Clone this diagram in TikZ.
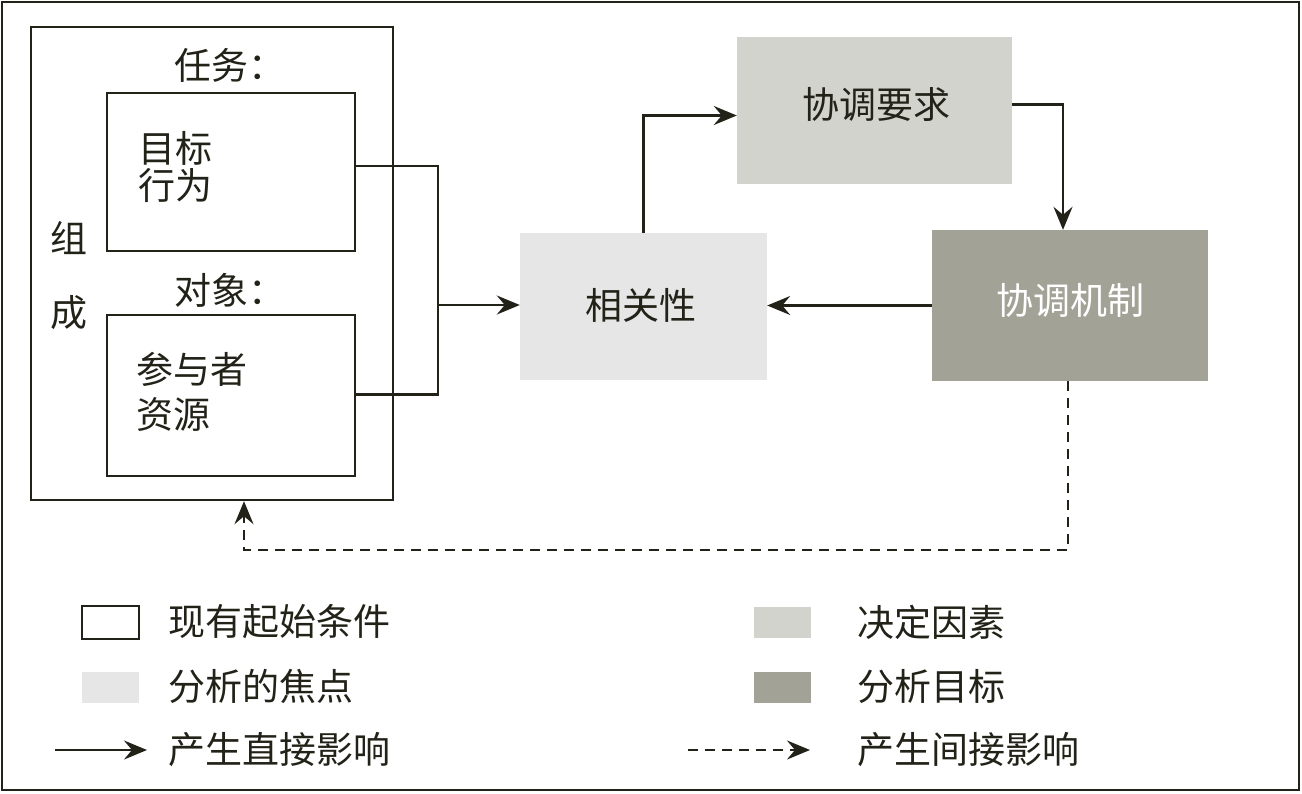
\documentclass[tikz,border=0pt]{standalone}
\usepackage{fontspec}
\setmainfont{Noto Sans CJK SC}
\usetikzlibrary{arrows.meta}
\definecolor{ink}{RGB}{34,34,24}
\definecolor{focus}{RGB}{230,230,230}
\definecolor{determ}{RGB}{211,211,206}
\definecolor{target}{RGB}{162,162,151}
\tikzset{
  box/.style={draw=ink,line width=2.4pt,fill=white,inner sep=0pt},
  fillbox/.style={draw=none,inner sep=0pt},
  lbl/.style={text=ink,font=\fontsize{37}{38}\selectfont,inner sep=0pt},
  conn/.style={draw=ink,line width=2.4pt},
  arr/.style={conn,-{Stealth[length=23pt,width=19pt,inset=8pt]}},
  darr/.style={arr,dash pattern=on 10pt off 7pt},
}
\begin{document}
\begin{tikzpicture}[x=1pt,y=-1pt]
\useasboundingbox (0,0) rectangle (1302,793);
\draw[ink,line width=2.8pt] (2,2) rectangle (1299,790);

% left group
\node[box,minimum width=362pt,minimum height=473pt] (zc) at (212,263.5) {};
\node[box,minimum width=248pt,minimum height=158pt] (task) at (231,172) {};
\node[box,minimum width=248pt,minimum height=161pt] (obj) at (231,395.5) {};
\node[lbl] (tasklbl) at (230,65) {任务：};
\node[lbl] (objlbl) at (230,290) {对象：};
\node[lbl,align=left,anchor=west] (tasktxt) at (138,167) {目标\\[-1pt]行为};
\node[lbl,align=left,anchor=west,font=\fontsize{37}{45}\selectfont] (objtxt) at (136,392) {参与者\\资源};
\node[lbl] (zu) at (69,238) {组};
\node[lbl] (cheng) at (69,313) {成};

% right boxes
\node[fillbox,fill=focus,minimum width=247pt,minimum height=147pt] (xgx) at (643.5,306.5) {};
\node[lbl] at (641,305) {相关性};
\node[fillbox,fill=determ,minimum width=275pt,minimum height=147pt] (yq) at (874.5,110.5) {};
\node[lbl] at (876,104) {协调要求};
\node[fillbox,fill=target,minimum width=276pt,minimum height=151pt] (jz) at (1070,305.5) {};
\node[lbl,text=white] at (1070,300) {协调机制};

% connectors
\coordinate (j) at (438,305);
\draw[conn] ([yshift=6pt]task.east) -| (j);
\draw[conn] ([yshift=1pt]obj.east) -| (j);
\draw[arr] (j) -- (j -| xgx.west);
\draw[arr] (xgx.north) |- ([yshift=-5pt]yq.west);
\draw[arr] ([yshift=6pt]yq.east) -| ([xshift=-7pt]jz.north);
\draw[arr] (jz.west) -- (jz.west -| xgx.east);
\coordinate (dc) at (244,550);
\draw[darr] ([xshift=-2pt]jz.south) |- (dc) -- (dc |- zc.south);

% legend
\node[box,minimum width=57pt,minimum height=33pt] (l1) at (110.5,622.5) {};
\node[lbl,anchor=west] (t1) at (168,622) {现有起始条件};
\node[fillbox,fill=focus,minimum width=57pt,minimum height=31pt] (l2) at (110.5,687.5) {};
\node[lbl,anchor=west] (t2) at (168,686) {分析的焦点};
\coordinate (a1s) at (55,750);
\coordinate (a1e) at (147,750);
\draw[arr] (a1s) -- (a1e);
\node[lbl,anchor=west] (t3) at (168,750) {产生直接影响};

\node[fillbox,fill=determ,minimum width=57pt,minimum height=31pt] (l4) at (782.5,622.5) {};
\node[lbl,anchor=west] (t4) at (857,622) {决定因素};
\node[fillbox,fill=target,minimum width=57pt,minimum height=31pt] (l5) at (782.5,687.5) {};
\node[lbl,anchor=west] (t5) at (857,686) {分析目标};
\coordinate (a2s) at (688,750);
\coordinate (a2e) at (810,750);
\draw[darr] (a2s) -- (a2e);
\node[lbl,anchor=west] (t6) at (857,750) {产生间接影响};
\end{tikzpicture}
\end{document}
